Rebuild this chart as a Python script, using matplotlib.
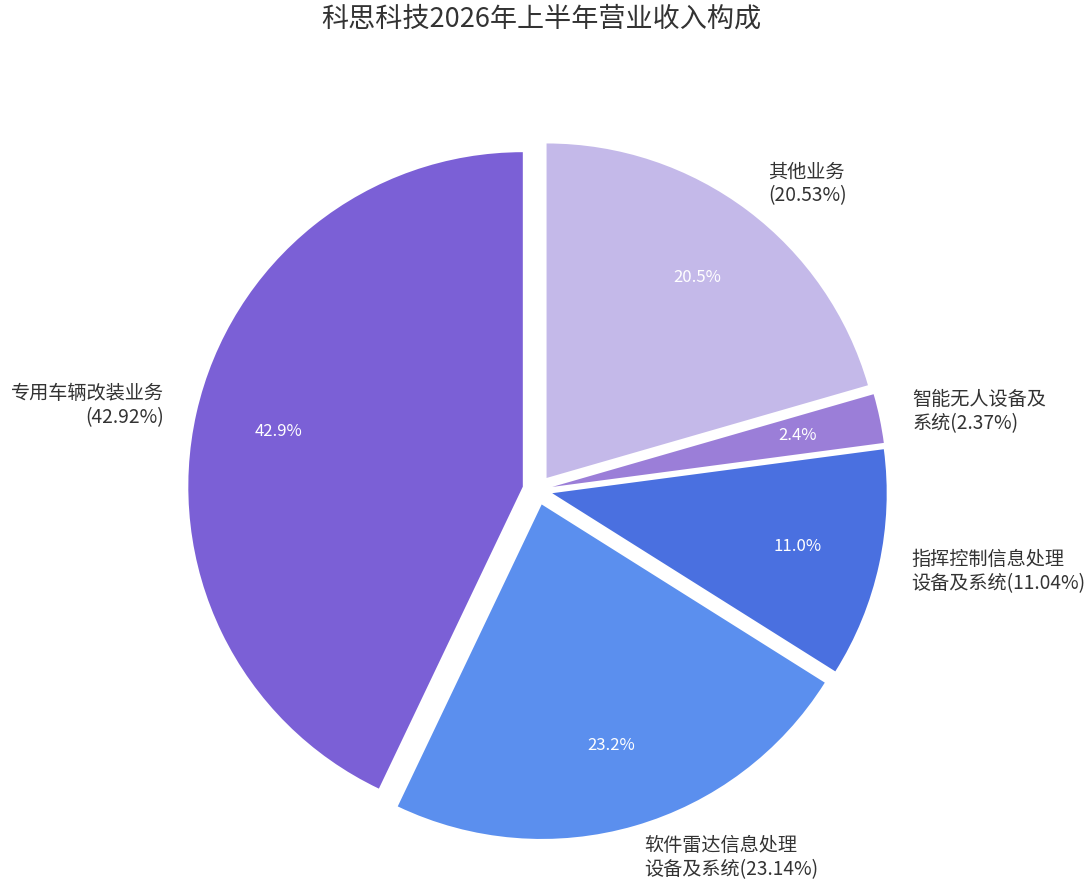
import matplotlib
matplotlib.use("Agg")
import matplotlib.pyplot as plt

plt.rcParams['font.family'] = ['Noto Sans CJK SC', 'DejaVu Sans']

# 数据（顺时针，从12点方向开始）
names = ["其他业务", "智能无人设备及\n系统", "指挥控制信息处理\n设备及系统",
         "软件雷达信息处理\n设备及系统", "专用车辆改装业务\n"]
shares = [20.53, 2.37, 11.04, 23.14, 42.92]
inner_text = ["20.5%", "2.4%", "11.0%", "23.2%", "42.9%"]
colors = ["#c4b9e9", "#9b7ed8", "#4a70e0", "#5b8fee", "#7b60d6"]

labels = []
for n, s in zip(names, shares):
    sep = "" if n.endswith("\n") or "\n" in n else "\n"
    labels.append(f"{n}{sep}({s:.2f}%)")

W, H = 1087, 884
cx, cy, R = 537.5, 490.0, 334.5

fig = plt.figure(figsize=(W / 100, H / 100), dpi=100)
ax = fig.add_axes([0, 0, 1, 1])

it = iter(inner_text)
wedges, texts, autotexts = ax.pie(
    shares, labels=labels, colors=colors, startangle=90, counterclock=False,
    explode=[0.045] * len(shares), autopct=lambda p: next(it),
    pctdistance=0.75, labeldistance=1.1,
    textprops={"fontsize": 13.8, "color": "#333333"})
for t in autotexts:
    t.set_color("white")
    t.set_fontsize(12)

ax.set_xlim(-cx / R, (W - cx) / R)
ax.set_ylim((cy - H) / R, cy / R)
ax.axis("off")

fig.text(0.498, 1 - 19 / H, "科思科技2026年上半年营业收入构成",
         ha="center", va="center", fontsize=19.5, color="#333333")

fig.savefig("out.png", dpi=100)
